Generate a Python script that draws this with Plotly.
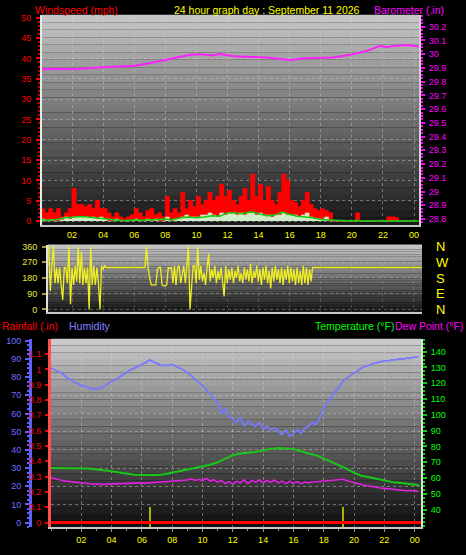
import plotly.graph_objects as go

W, H = 466, 555
FONT = "Liberation Sans"

# ---------------- DATA ----------------
hour_ticks = [2, 4, 6, 8, 10, 12, 14, 16, 18, 20, 22, 24]
hour_labels = ["02", "04", "06", "08", "10", "12", "14", "16", "18", "20", "22", "00"]

# wind gust (mph), 15-minute samples starting at 0h
wind_step = 0.25
wind_gust = [3, 2, 3, 2, 3, 1, 2, 3,
             8, 4, 4, 3.5, 4, 3, 5, 3,
             3, 2, 1, 2, 1, 0.5, 1, 1.5,
             3, 2, 1, 2.5, 3, 1.5, 2, 1,
             6, 2, 3, 2, 7, 3, 5, 3.5,
             6, 4, 5, 7, 5, 6, 9, 6,
             7.5, 5, 4, 6, 8, 5, 11.5, 6,
             9, 5, 8.5, 5, 4, 7, 11.5, 10,
             5, 4.5, 3.5, 5, 7, 4, 3, 2.5,
             3, 2.5, 2, 0, 0, 0, 0, 0,
             0, 2, 0, 0, 0, 0, 0, 0,
             0, 1, 1, 0.8, 0, 0, 0, 0, 0]
# wind speed (mph), 15-minute samples
wind_speed = [0.5, 0, 0.3, 0, 0, 0.3, 1, 0.5,
              1, 1, 1, 1, 0.8, 1, 0.5, 1,
              0.5, 0, 0, 0.5, 0, 0, 0, 0,
              0.5, 0, 0, 0.5, 0, 0.5, 0, 0,
              1, 0, 0.5, 0.5, 1, 1.5, 1, 1,
              1, 1.5, 1.5, 2, 1.5, 1, 2, 1.5,
              2, 2, 1.5, 2, 1.5, 2, 2, 1.5,
              2, 1.5, 1.5, 1, 1.5, 1.5, 2, 1.5,
              1.5, 1.5, 1, 1.5, 2, 1, 0.5, 0.5,
              0.5, 1, 0, 0, 0, 0, 0, 0,
              0, 0, 0, 0, 0, 0, 0, 0,
              0, 0, 0, 0, 0, 0, 0, 0, 0]
# average wind (mph)
avg_hours = [0, 0.5, 1, 1.5, 2, 2.5, 3, 3.5, 4, 4.5, 5, 5.5, 6, 6.5, 7, 7.5, 8, 8.5,
             9, 9.5, 10, 10.5, 11, 11.5, 12, 12.5, 13, 13.5, 14, 14.5, 15, 15.5, 16,
             16.5, 17, 17.5, 18, 18.5, 19, 19.5, 20, 20.3, 20.6, 21, 22, 23, 24.3]
avg_wind = [0.3, 0.2, 0.4, 0.8, 0.9, 1.1, 1.0, 0.8, 0.6, 0.3, 0.2, 0.1, 0.3, 0.2, 0.3,
            0.3, 0.5, 0.3, 0.8, 1.0, 0.8, 1.0, 1.3, 1.2, 2.0, 2.0, 1.8, 2.3, 1.8, 1.3,
            1.4, 2.2, 1.6, 1.2, 1.0, 0.8, 0.4, 0.3, 0.1, 0, 0, 0.2, 0, 0, 0, 0, 0]

# barometer (inHg)
baro_hours = [0, 1, 2, 3, 4, 5, 6, 6.8, 7.7, 8.1, 9, 9.6, 10.2, 11, 11.5, 12.4, 13.5,
              14.5, 15.5, 16, 17, 18, 18.8, 19.5, 20.1, 21, 21.8, 22.2, 22.7, 23.5, 24.3]
baro = [29.89, 29.893, 29.89, 29.90, 29.905, 29.91, 29.915, 29.93, 29.95, 29.96, 29.98,
        29.995, 30.0, 29.99, 30.0, 29.985, 29.98, 29.976, 29.965, 29.957, 29.97, 29.975,
        29.976, 29.988, 30.0, 30.024, 30.06, 30.05, 30.06, 30.066, 30.055]

# wind direction (degrees), 6-minute samples starting 0.5h, then constant to end
dir_start, dir_step = 0.5, 0.1
wind_dir = [360, 105, 250, 360, 150, 240, 150, 240, 140, 55,
            240, 240, 150, 360, 30, 240, 140, 250, 160, 360,
            150, 330, 140, 240, 150, 240, 0, 360, 140, 250,
            140, 240, 150, 0, 250, 230, 250,
            240, 240, 240, 240, 240, 240, 240, 240, 240, 240, 240, 240, 240,
            240, 240, 240, 240, 240, 240, 240, 240, 240, 240, 240, 240, 240,
            360, 240, 180, 140, 140, 140, 140, 230, 240, 240,
            140, 135, 135, 140, 240, 235, 240, 150, 250, 140,
            240, 250, 150, 200, 250, 150, 250, 360, 0, 160,
            250, 250, 150, 360, 170, 250, 160, 210, 140, 240,
            320, 160, 230, 180, 250, 150, 220, 170, 240, 160,
            75, 250, 150, 230, 170, 240, 150, 220, 180, 250,
            160, 210, 150, 240, 170, 230, 160, 260, 150, 220,
            180, 250, 160, 230, 140, 240, 170, 250, 150, 220,
            120, 240, 160, 250, 170, 230, 150, 240, 140, 230,
            170, 250, 150, 240, 160, 230, 140, 240, 150, 220,
            140, 250, 150, 240, 140, 230, 160, 240, 240]
dir_end_hour = 24.55

# humidity (%), 15-minute samples from 0h
hum_step = 0.25
humidity = [85, 84, 83, 82, 80, 79, 77.5, 76.5, 75.5, 75, 74, 73.5, 73.5, 74, 75, 76.5,
            77.5, 78.5, 80, 81.5, 83, 84, 85, 86, 87, 88, 89.5, 88.5, 87.5, 86.5, 86.5, 86.5,
            87, 86, 85, 84, 82.5, 81, 79, 77, 75.5, 73, 71, 68, 66, 60, 63, 58,
            57, 55, 58, 53, 56, 54, 53, 55, 51.5, 53, 51, 52, 50, 48.5, 51, 47.5,
            49, 51, 49, 52, 53, 55, 54, 58, 63, 66, 69, 72, 75, 77.5, 79.5, 81,
            82.5, 84, 85, 86, 86.5, 87.5, 88, 88.5, 89, 89, 89.5, 89.5, 90, 90, 90.5, 90.5,
            91, 91]

# temperature (F)
temp_hours = [0, 0.5, 1, 1.5, 2, 2.5, 3, 3.5, 4, 4.5, 5, 5.5, 6, 6.5, 7, 7.5, 8, 8.5, 9,
              9.5, 10, 10.5, 11, 11.5, 12, 12.5, 13, 13.5, 14, 14.5, 15, 15.5, 16, 16.5,
              17, 17.5, 18, 18.5, 19, 19.5, 20, 20.5, 21, 21.5, 22, 22.5, 23, 23.5, 24, 24.3]
temperature = [66.4, 66.2, 66, 65.8, 66, 66, 65.5, 65, 64.3, 63.5, 62.8, 62.2, 62, 62, 62,
               62.5, 63.5, 64.7, 65.5, 66.3, 67.5, 68.5, 70, 72, 74.5, 75.5, 76, 76.5,
               77.5, 78.5, 79, 78.8, 78.5, 77, 75.5, 74.5, 72.5, 70.5, 68.5, 66, 63.3,
               61.5, 60.5, 59.5, 58.5, 57.5, 57, 56.5, 55.8, 55.5]

# dew point (F), 15-minute samples from 0h
dew_step = 0.25
dew_point = [60.2, 59.5, 59, 58.5, 58.1, 57.8, 57.5, 57.2, 57, 56.7, 56.5, 56.3, 56.2, 56, 56, 56.2,
             56.3, 56.5, 56.5, 56.7, 56.8, 56.7, 56.7, 56.8, 57, 56.8, 57, 57.2, 57.3, 57.5, 57.5, 57.8,
             58, 58.2, 58.3, 58.5, 58.8, 59.5, 58.5, 59.2, 58.3, 59.8, 58, 59, 57.5, 58.5, 56.5, 57.8,
             56.2, 58, 57, 59, 56.5, 58.5, 57.5, 58.8, 57.2, 58.5, 57.5, 58.8, 57, 58.2, 56.5, 58,
             56.8, 57.8, 56.5, 57.5, 57, 57.5, 57.8, 58, 58, 58.3, 58.5, 58.8, 59.2, 59.3, 58.5, 57.8,
             57, 56.5, 56, 55.5, 55, 54.5, 54, 53.7, 53.5, 53.2, 53, 52.7, 52.5, 52.3, 52, 52.2,
             51.8, 51.5]

# rainfall (in)
rain_hours = [0, 24.42]
rainfall = [0, 0]

# sunrise / sunset markers (hours)
sun_hours = [6.57, 19.3]

# ---------------- FIGURE ----------------
wind_t = [wind_step * i for i in range(len(wind_gust))]
dir_t = [dir_start + dir_step * i for i in range(len(wind_dir))] + [dir_end_hour]
dir_v = wind_dir + [wind_dir[-1]]
hum_t = [hum_step * i for i in range(len(humidity))]
dew_t = [dew_step * i for i in range(len(dew_point))]

def py(px):
    return 1 - px / H

fig = go.Figure()

# top panel
fig.add_trace(go.Scatter(x=wind_t, y=wind_gust, mode="lines", line=dict(color="#ff0000", width=1, shape="hv"),
                         fill="tozeroy", fillcolor="#ff0000", xaxis="x", yaxis="y", hoverinfo="skip"))
fig.add_trace(go.Scatter(x=wind_t, y=wind_speed, mode="lines", line=dict(color="#d8f0d0", width=0.5, shape="hv"),
                         fill="tozeroy", fillcolor="#d0ecc8", xaxis="x", yaxis="y", hoverinfo="skip"))
fig.add_trace(go.Scatter(x=avg_hours, y=avg_wind, mode="lines", line=dict(color="#10d010", width=1.5),
                         xaxis="x", yaxis="y", hoverinfo="skip"))
fig.add_trace(go.Scatter(x=baro_hours, y=baro, mode="lines", line=dict(color="#ff20ff", width=2),
                         xaxis="x", yaxis="y2", hoverinfo="skip"))

# direction panel
fig.add_trace(go.Scatter(x=dir_t, y=dir_v, mode="lines", line=dict(color="#f0f020", width=1.3),
                         xaxis="x2", yaxis="y3", hoverinfo="skip"))
fig.add_trace(go.Scatter(x=[dir_end_hour], y=[None], xaxis="x2", yaxis="y4", showlegend=False))

# bottom panel
fig.add_trace(go.Bar(x=sun_hours, y=[0.14, 0.14], base=-0.04, width=0.1, marker=dict(color="#b0b000", line_width=0),
                     xaxis="x3", yaxis="y5", hoverinfo="skip"))
fig.add_trace(go.Scatter(x=rain_hours, y=rainfall, mode="lines", line=dict(color="#ff0000", width=3),
                         xaxis="x3", yaxis="y5", hoverinfo="skip"))
fig.add_trace(go.Scatter(x=hum_t, y=humidity, mode="lines", line=dict(color="#7878ff", width=1.8),
                         xaxis="x3", yaxis="y6", hoverinfo="skip"))
fig.add_trace(go.Scatter(x=temp_hours, y=temperature, mode="lines", line=dict(color="#18c818", width=2),
                         xaxis="x3", yaxis="y7", hoverinfo="skip"))
fig.add_trace(go.Scatter(x=dew_t, y=dew_point, mode="lines", line=dict(color="#e020e0", width=1.6),
                         xaxis="x3", yaxis="y7", hoverinfo="skip"))

# gradient backgrounds
shapes = []
def gradient(xref, yref, top, bottom, n=28):
    for i in range(n):
        f = (i + 0.5) / n
        g = int(bottom + (top - bottom) * f)
        shapes.append(dict(type="rect", xref=xref, yref=yref, x0=0, x1=1, y0=i / n, y1=(i + 1) / n,
                           fillcolor=f"rgb({g},{g},{g})", line=dict(width=0), layer="below"))
gradient("x domain", "y domain", 200, 22)
gradient("x2 domain", "y3 domain", 200, 22)
gradient("x3 domain", "y5 domain", 205, 12)

GRID = "rgba(205,205,205,0.45)"
tick_font = dict(family=FONT, size=9)

fig.update_layout(
    width=W, height=H, margin=dict(l=0, r=0, t=0, b=0),
    paper_bgcolor="#000000", plot_bgcolor="#000000",
    showlegend=False, bargap=0, shapes=shapes,
    font=dict(family=FONT, size=9, color="#ffffff"),
    xaxis=dict(domain=[42 / W, 419 / W], anchor="y", range=[0.064, 24.32],
               tickvals=hour_ticks, ticktext=hour_labels, tickfont=dict(tick_font, color="#ffff00"),
               showgrid=True, gridcolor=GRID, griddash="dot", gridwidth=1,
               showline=True, linecolor="#c8c8c8", linewidth=2, ticks="", zeroline=False),
    yaxis=dict(domain=[py(224), py(10)], anchor="x", range=[-0.97, 50.72],
               tickmode="linear", tick0=0, dtick=5, tickfont=dict(tick_font, color="#ff0000"),
               ticks="outside", ticklen=4, tickcolor="#ff0000", tickwidth=2, ticklabelstandoff=3,
               minor=dict(dtick=1, ticklen=2, tickcolor="#c00000", ticks="outside"),
               showgrid=True, gridcolor=GRID, griddash="dot", zeroline=False,
               showline=True, linecolor="#e8e8e8", linewidth=2),
    yaxis2=dict(overlaying="y", side="right", anchor="x", range=[28.757, 30.286],
                tickmode="linear", tick0=28.8, dtick=0.1, tickfont=dict(tick_font, color="#ff00ff"),
                ticks="outside", ticklen=4, tickcolor="#ff00ff", tickwidth=2, ticklabelstandoff=2,
                minor=dict(dtick=0.025, ticklen=2, tickcolor="#ff00ff", ticks="outside"),
                showgrid=False, zeroline=False, showline=True, linecolor="#d0d0d0", linewidth=2),
    xaxis2=dict(domain=[48 / W, 422 / W], anchor="y3", range=[0.45, 24.55],
                showticklabels=False, ticks="", tickvals=hour_ticks,
                showgrid=True, gridcolor="rgba(205,205,205,0.25)", griddash="dot",
                showline=True, linecolor="#c8c8c8", linewidth=2, zeroline=False),
    yaxis3=dict(domain=[py(312.7), py(244)], anchor="x2", range=[-15.2, 371.2],
                tickvals=[0, 90, 180, 270, 360], tickfont=dict(tick_font, color="#e8e840"),
                ticks="outside", ticklen=4, tickcolor="#a0a020", tickwidth=2, ticklabelstandoff=3,
                showgrid=True, gridcolor="rgba(205,205,205,0.35)", griddash="dot", zeroline=False,
                showline=True, linecolor="#e0e0e0", linewidth=2),
    yaxis4=dict(overlaying="y3", side="right", anchor="x2", range=[-15.2, 371.2],
                tickvals=[360, 270, 180, 90, 0], ticktext=["N", "W", "S", "E", "N"],
                tickfont=dict(family=FONT, size=13, color="#ffff00"), ticks="", ticklabelstandoff=13,
                showgrid=False, zeroline=False, showline=False),
    xaxis3=dict(domain=[51 / W, 421 / W], anchor="y5", range=[0, 24.42],
                tickvals=hour_ticks, ticktext=hour_labels, tickfont=dict(tick_font, color="#ffff00"),
                ticks="outside", ticklen=3, tickcolor="#909090",
                minor=dict(dtick=1, tick0=0, ticklen=2, tickcolor="#909090", ticks="outside"),
                showgrid=True, gridcolor=GRID, griddash="dot",
                showline=True, linecolor="#c8c8c8", linewidth=2, zeroline=False),
    yaxis5=dict(domain=[py(532), py(340)], anchor="x3", range=[-0.032, 1.199],
                tickmode="linear", tick0=0, dtick=0.1, tickfont=dict(tick_font, color="#ff0000"),
                ticks="outside", ticklen=3, tickcolor="#ff0000", tickwidth=2, ticklabelstandoff=2,
                showgrid=False, zeroline=False, showline=True, linecolor="#ff5050", linewidth=3),
    yaxis6=dict(overlaying="y5", anchor="free", position=30 / W, side="left", range=[-2.7, 101.08],
                tickmode="linear", tick0=0, dtick=10, tickfont=dict(tick_font, color="#7070ff"),
                ticks="outside", ticklen=4, tickcolor="#6060ff", tickwidth=2, ticklabelstandoff=2,
                minor=dict(dtick=2.5, ticklen=2, tickcolor="#6060ff", ticks="outside"),
                showgrid=True, gridcolor=GRID, griddash="dot", zeroline=False,
                showline=True, linecolor="#6060ff", linewidth=3),
    yaxis7=dict(overlaying="y5", side="right", anchor="x3", range=[28.8, 148.1],
                tickvals=[40, 50, 60, 70, 80, 90, 100, 110, 120, 130, 140],
                tickfont=dict(tick_font, color="#00ff00"),
                ticks="outside", ticklen=4, tickcolor="#00e000", tickwidth=2, ticklabelstandoff=2,
                minor=dict(dtick=2.5, ticklen=2, tickcolor="#00e000", ticks="outside"),
                showgrid=False, zeroline=False, showline=True, linecolor="#e0e0e0", linewidth=2),
)

def label(text, x, y, color, size=10.5):
    fig.add_annotation(text=text, x=x / W, y=py(y), xref="paper", yref="paper",
                       xanchor="left", yanchor="middle", showarrow=False,
                       font=dict(family=FONT, size=size, color=color))

label("Windspeed (mph)", 33, 5, "#ff0000")
label("24 hour graph day : September 11 2026", 172, 5, "#ffff00")
label("Barometer (.in)", 372, 5, "#ff00ff")
label("Rainfall (.in)", 0, 327, "#ff0000")
label("Humidity", 67, 327, "#8080ff")
label("Temperature (°F)", 313, 327, "#00ff00")
label("Dew Point (°F)", 393, 327, "#ff00ff")

fig.write_html("out.html", config={"displayModeBar": False},
               post_script="document.body.style.margin='0';document.body.style.background='#000';")
